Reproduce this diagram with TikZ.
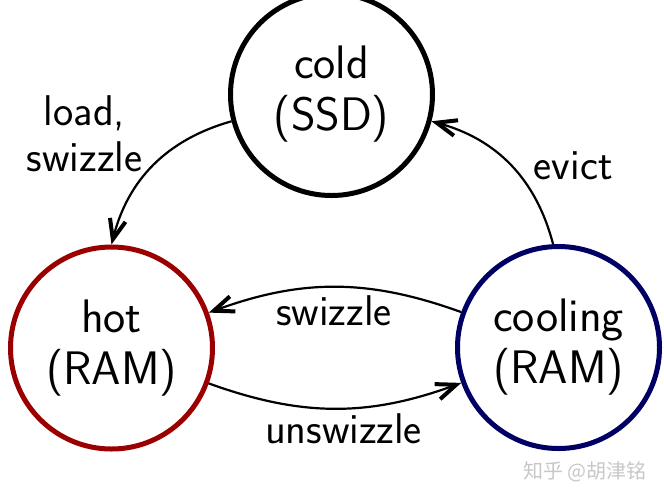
\documentclass[tikz,border=0pt]{standalone}
\usepackage{fontspec}
\newfontfamily\cjkfont{Noto Sans CJK SC}
\usetikzlibrary{
    arrows.meta,
    positioning
}
\definecolor{hotred}{RGB}{155,0,0}
\definecolor{coolblue}{RGB}{0,0,100}

\begin{document}
\begin{tikzpicture}[x=0.5pt, y=0.5pt,
    store/.style={circle, draw, line width=2.5pt, minimum size=101pt, inner sep=0pt,
        align=center, font=\sffamily\fontsize{23.5}{26}\selectfont},
    lbl/.style={font=\sffamily\fontsize{21.5}{23}\selectfont, align=center,
        inner sep=0pt, anchor=base},
    trans/.style={line width=1.1pt,
        -{Straight Barb[length=10pt, width=8pt, line width=2pt]}}]
                        \useasboundingbox (0, 0) rectangle (664, -500);
                        \clip (0, 0) rectangle (664, -500);
                        % storage states
                        \node[store] (cold) at (331.5, -94.5) {cold\\(SSD)};
                        \node[store, hotred] (hot) at (111.5, -348) {\textcolor{black}{hot}\\\textcolor{black}{(RAM)}};
                        \node[store, coolblue] (cooling) at (558.5, -347.5) {\textcolor{black}{cooling}\\\textcolor{black}{(RAM)}};
                        % transition labels
                        \node[lbl] (loadlbl) at (84.5, -171) {load,\\swizzle};
                        \node[lbl] (evictlbl) at (573.3, -179.3) {evict};
                        \node[lbl] (swzlbl) at (334, -325) {swizzle};
                        \node[lbl] (unswzlbl) at (343.5, -443.3) {unswizzle};
                        \draw
                        (cold.195) edge[trans, bend right=30] (hot.north)
                        (cooling.93) edge[trans, bend right=30] (cold.345)
                        (cooling.160) edge[trans, bend right=20] (hot.20)
                        (hot.340) edge[trans, bend right=20] (cooling.200);
                        \node[text=black!22, font=\cjkfont\fontsize{10}{12}\selectfont] (mark) at (585, -472) {知乎 @胡津铭};
                    \end{tikzpicture}
\end{document}
